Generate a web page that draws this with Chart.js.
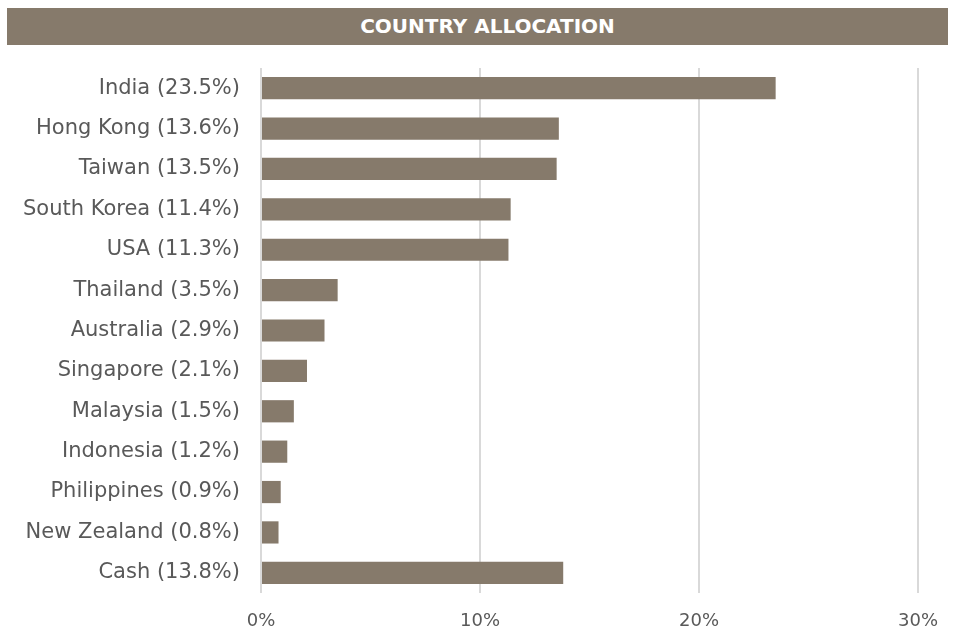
<!DOCTYPE html>
<html><head><meta charset="utf-8">
<script src="https://cdn.jsdelivr.net/npm/chart.js@4"></script>
<style>
html,body{margin:0;padding:0;background:#fff;}
#wrap{position:relative;width:956px;height:634px;}
#banner{position:absolute;left:7px;top:8px;width:941px;height:37px;background:#867a6b;color:#fff;font-family:"DejaVu Sans",sans-serif;font-weight:bold;font-size:20px;line-height:37px;text-align:center;box-sizing:border-box;padding-left:20px;}
canvas{position:absolute;left:0;top:0;}
</style></head>
<body>
<div id="wrap">
<canvas id="c" width="956" height="634"></canvas>
<div id="banner">COUNTRY ALLOCATION</div>
</div>
<script>
const categories = ["India (23.5%)","Hong Kong (13.6%)","Taiwan (13.5%)","South Korea (11.4%)","USA (11.3%)","Thailand (3.5%)","Australia (2.9%)","Singapore (2.1%)","Malaysia (1.5%)","Indonesia (1.2%)","Philippines (0.9%)","New Zealand (0.8%)","Cash (13.8%)"];
const values = [23.5,13.6,13.5,11.4,11.3,3.5,2.9,2.1,1.5,1.2,0.9,0.8,13.8];
const xTicks = [0,10,20,30];

const font = "'DejaVu Sans', sans-serif";
new Chart(document.getElementById('c'), {
  type: 'bar',
  data: { labels: categories, datasets: [{ data: values, backgroundColor: '#867a6b', categoryPercentage: 1.0, barPercentage: 0.55 }] },
  options: {
    indexAxis: 'y', responsive: false, animation: false,
    layout: { padding: { top: 68, right: 38, left: 0, bottom: 0 } },
    plugins: { legend: { display: false }, tooltip: { enabled: false } },
    scales: {
      x: {
        min: 0, max: 30,
        afterBuildTicks: s => { s.ticks = xTicks.map(v => ({ value: v })); },
        afterFit: s => { s.height = 41; },
        ticks: { callback: v => v + '%', color: '#595959', font: { family: font, size: 18 }, padding: 18, maxRotation: 0 },
        grid: { color: '#d9d9d9', lineWidth: 2, drawTicks: false },
        border: { display: false }
      },
      y: {
        afterFit: s => { s.width = 261; },
        ticks: { color: '#595959', font: { family: font, size: 21 }, padding: 21 },
        grid: { display: false, drawTicks: false },
        border: { display: false }
      }
    }
  }
});
</script>
</body></html>
